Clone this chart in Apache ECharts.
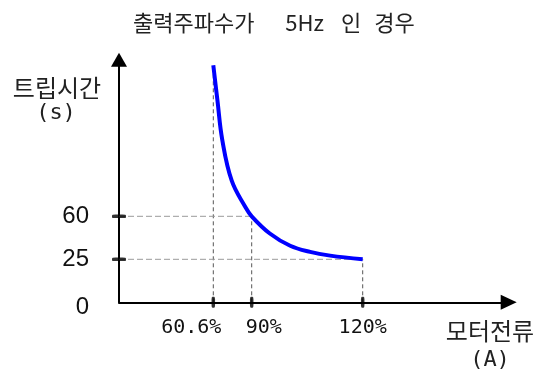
<!DOCTYPE html>
<html><head><meta charset="utf-8">
<script src="https://cdn.jsdelivr.net/npm/echarts@6/dist/echarts.min.js"></script>
<style>html,body{margin:0;padding:0;background:#fff}#c{width:536px;height:376px}</style>
</head><body><div id="c"></div>
<script>
// ---- data ----
const titleWords = ['출력주파수가', '5Hz', '인', '경우'];
const xName = ['모터전류', '(A)'];
const yName = ['트립시간', '(s)'];
const xTickValues = [60.6, 90, 120];
const xTickLabels = ['60.6%', '90%', '120%'];
const yTickValues = [0, 25, 60];
const yTickLabels = ['0', '25', '60'];
const motorCurrent = [60.6, 63.8, 67.5, 74.7, 84.9, 90, 94.9, 100.4, 105.8, 111.2, 120];
const tripTime = [183, 154, 122, 89, 68, 60, 46, 36, 31, 28, 25];

// ---- schematic (piecewise) axis scales: value anchors -> axis units ----
const xScale = { v: [0, 60.6, 90, 120], u: [0, 94.3, 132.7, 243.7] };
const yScale = { v: [0, 25, 60], u: [0, 43, 86] };
function toUnit(val, s) {
  const n = s.v.length;
  let i = 0;
  while (i < n - 2 && val > s.v[i + 1]) i++;
  const t = (val - s.v[i]) / (s.v[i + 1] - s.v[i]);
  return s.u[i] + t * (s.u[i + 1] - s.u[i]);
}
const X = v => toUnit(v, xScale);
const Y = v => toUnit(v, yScale);

const curve = motorCurrent.map((c, i) => [X(c), Y(tripTime[i])]);
const xUnits = xTickValues.map(X);
const yUnits = yTickValues.map(Y);
function labelFor(val, units) {
  for (let i = 0; i < units.length; i++) if (Math.abs(units[i] - val) < 1e-6) return i;
  return -1;
}
// label nudges (style only)
const xLabelFont = { fontFamily: 'DejaVu Sans Mono', fontSize: 20, color: '#111', lineHeight: 22 };
const xPads = [[0, 44, 0, 0], [0, 0, 0, 24], [0, 0, 0, 0]];
const xRich = {};
xPads.forEach((p, i) => { xRich['x' + i] = Object.assign({ padding: p }, xLabelFont); });
const xFmt = units => v => { const i = labelFor(v, xUnits); return i < 0 ? '' : '{x' + i + '|' + xTickLabels[i] + '}'; };

const titleFont = { fontFamily: 'Noto Sans CJK KR', fontSize: 22, color: '#222', lineHeight: 28 };
const titlePad = [26, 12, 8, 0];
const titleRich = {};
titleWords.forEach((w, i) => { titleRich['w' + i] = Object.assign({ padding: [0, titlePad[i], 0, 0] }, titleFont); });
const titleText = titleWords.map((w, i) => '{w' + i + '|' + w + '}').join(' ');

const topIdx = tripTime.indexOf(Math.max(...tripTime));
const vLines = [
  [motorCurrent[topIdx], tripTime[topIdx]],
  [xTickValues[1], yTickValues[2]],
  [xTickValues[2], yTickValues[1]]
];
const hLines = [
  [xTickValues[1], yTickValues[2]],
  [xTickValues[2], yTickValues[1]]
];

const series = [];
vLines.forEach(p => series.push({
  type: 'line', silent: true, symbol: 'none', z: 1,
  data: [[X(p[0]), 0], [X(p[0]), Y(p[1])]],
  lineStyle: { color: '#555', width: 1, type: [4, 3] }
}));
hLines.forEach(p => series.push({
  type: 'line', silent: true, symbol: 'none', z: 1,
  data: [[0, Y(p[1])], [X(p[0]), Y(p[1])]],
  lineStyle: { color: '#9a9a9a', width: 1, type: [6, 3] }
}));
series.push({
  type: 'line', silent: true, symbol: 'none', z: 3,
  smooth: 0.4,
  data: curve,
  lineStyle: { color: '#0000ff', width: 4 }
});
series.push({
  type: 'scatter', silent: true, z: 4,
  symbol: 'roundRect', symbolSize: [3.5, 11],
  itemStyle: { color: '#000' },
  data: xTickValues.map(v => [X(v), 0])
});
series.push({
  type: 'scatter', silent: true, z: 4,
  symbol: 'roundRect', symbolSize: [14, 3.5],
  itemStyle: { color: '#000' },
  data: yTickValues.filter(v => v > 0).map(v => [0, Y(v)])
});

const XMAX = 389.7;
const chart = echarts.init(document.getElementById('c'));
chart.setOption({
  animation: false,
  backgroundColor: '#fff',
  title: {
    text: titleText, left: 133, top: 9, padding: 0,
    textStyle: Object.assign({ fontWeight: 'normal', rich: titleRich }, titleFont)
  },
  grid: { left: 119, top: 59.7, width: XMAX, height: 242.6, containLabel: false },
  xAxis: [{
    type: 'value', min: 0, max: XMAX, position: 'bottom', offset: 0,
    axisLine: { show: true, onZero: false, symbol: ['none', 'triangle'], symbolSize: [15, 16], lineStyle: { color: '#000', width: 2 } },
    axisTick: { show: false },
    splitLine: { show: false },
    axisLabel: {
      customValues: [xUnits[0], xUnits[2]], margin: 14, hideOverlap: false,
      rich: xRich, formatter: xFmt()
    }
  }, {
    type: 'value', min: 0, max: XMAX, position: 'bottom', offset: 0,
    axisLine: { show: false },
    axisTick: { show: false },
    splitLine: { show: false },
    axisLabel: {
      customValues: [xUnits[1]], margin: 14, hideOverlap: false,
      rich: xRich, formatter: xFmt()
    }
  }],
  yAxis: {
    type: 'value', min: 0, max: 242.6,
    axisLine: { show: true, onZero: false, symbol: ['none', 'triangle'], symbolSize: [16, 14], lineStyle: { color: '#000', width: 2 } },
    axisTick: { show: false },
    splitLine: { show: false },
    axisLabel: {
      customValues: yUnits, margin: 30, hideOverlap: false,
      rich: {
        z: { fontFamily: 'Liberation Sans', fontSize: 24, color: '#111', padding: [10, 0, 0, 0] },
        n: { fontFamily: 'Liberation Sans', fontSize: 24, color: '#111' }
      },
      formatter: v => { const i = labelFor(v, yUnits); if (i < 0) return ''; return (i === 0 ? '{z|' : '{n|') + yTickLabels[i] + '}'; }
    }
  },
  graphic: [
    { type: 'text', x: 57, y: 88, style: { text: yName[0], textAlign: 'center', textVerticalAlign: 'middle', font: '24px "Noto Sans CJK KR"', fill: '#222' } },
    { type: 'text', x: 56, y: 113, style: { text: yName[1], textAlign: 'center', textVerticalAlign: 'middle', font: '22px "DejaVu Sans Mono"', fill: '#222' } },
    { type: 'text', x: 490, y: 331, style: { text: xName[0], textAlign: 'center', textVerticalAlign: 'middle', font: '24px "Noto Sans CJK KR"', fill: '#222' } },
    { type: 'text', x: 490, y: 360, style: { text: xName[1], textAlign: 'center', textVerticalAlign: 'middle', font: '22px "DejaVu Sans Mono"', fill: '#222' } }
  ],
  series: series
});
</script>
</body></html>
